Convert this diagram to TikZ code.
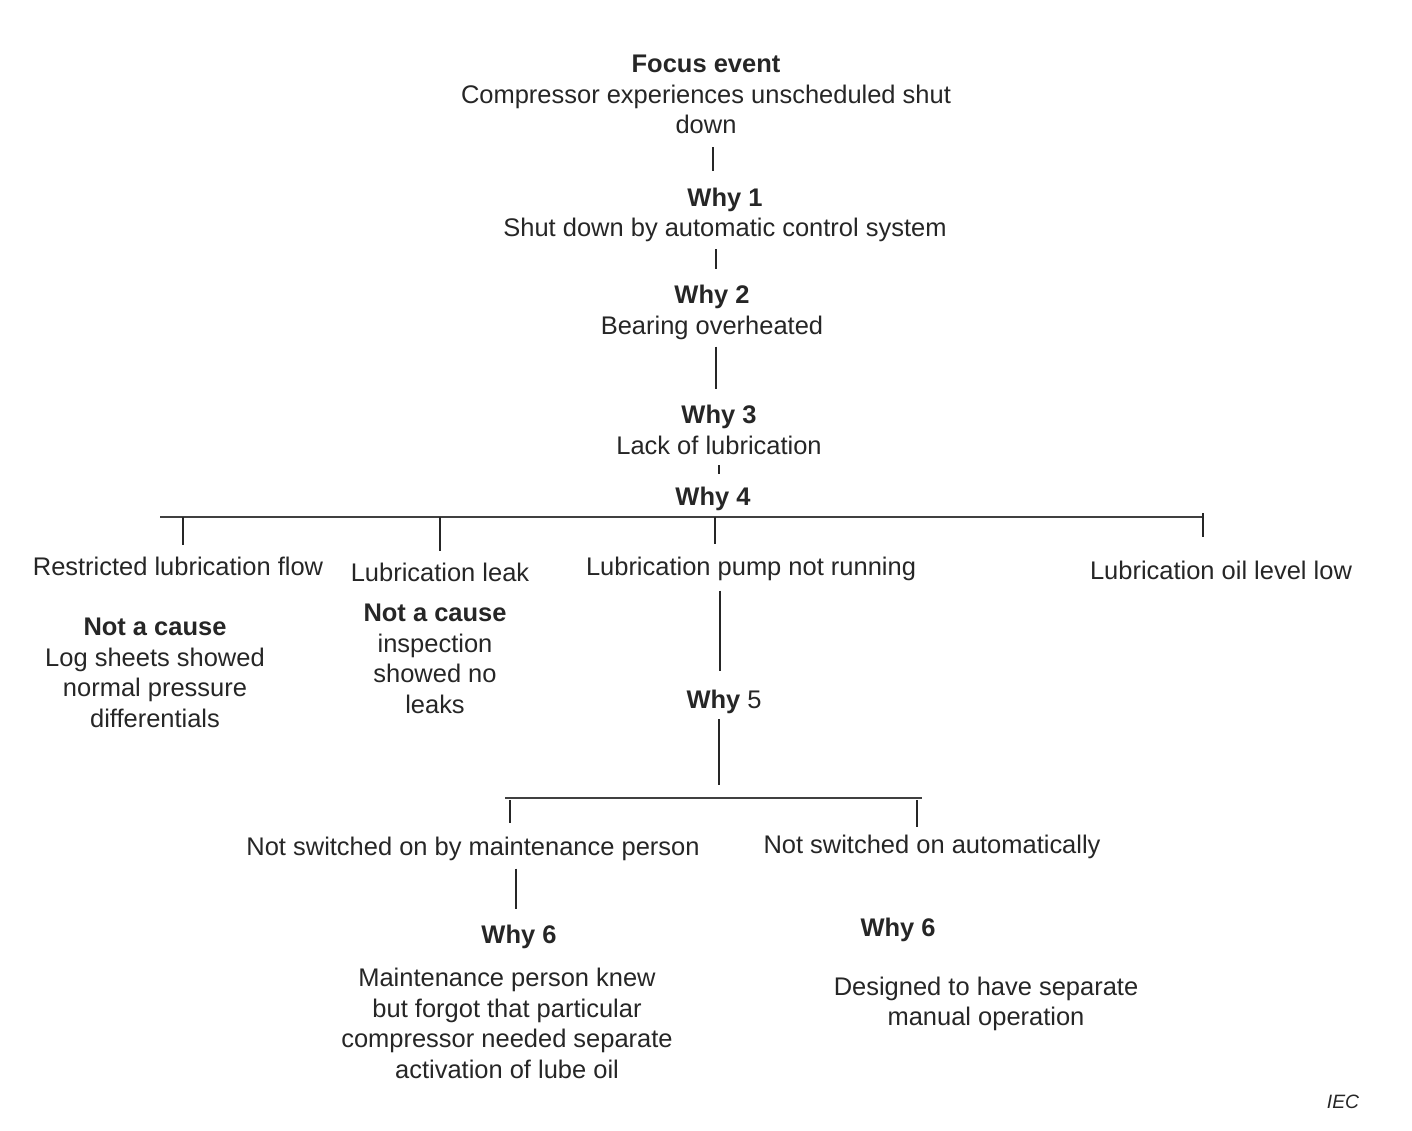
\documentclass[tikz,border=0pt]{standalone}
\usepackage{fontspec}
\setmainfont{Liberation Sans}
\usetikzlibrary{positioning}
\tikzset{
    mynode/.style={align=center, inner sep=0pt, text=black!85, font=\fontsize{14.5}{17.4}\selectfont},
    myline/.style={draw=black!85, line width=0.9pt},
    mybar/.style={draw=black!75, line width=1.2pt},
    mylabel/.style={inner sep=0pt, text=black!85, font=\fontsize{11}{13}\selectfont\itshape}
}

\begin{document}
\begin{tikzpicture}[x=0.02cm,y=-0.02cm]
    \useasboundingbox (0,0) rectangle (1412,1130);
    \node[mynode] (focus) at (706,94.5) {\textbf{Focus event}\\Compressor experiences unscheduled shut\\down};
    \node[mynode] (why1) at (725,215) {\textbf{Why 1}\\Shut down by automatic control system};
    \node[mynode] (why2) at (712,312.5) {\textbf{Why 2}\\Bearing overheated};
    \node[mynode] (why3) at (719,430) {\textbf{Why 3}\\Lack of lubrication};
    \node[mynode] (why4) at (713,499) {\textbf{Why 4}};
    \node[mynode] (c41) at (178,566) {Restricted lubrication flow};
    \node[mynode] (c42) at (440,572) {Lubrication leak};
    \node[mynode] (c43) at (751,569) {Lubrication pump not running};
    \node[mynode] (c44) at (1221,570) {Lubrication oil level low};
    \node[mynode] (n41) at (155,673) {\textbf{Not a cause}\\Log sheets showed\\normal pressure\\differentials};
    \node[mynode] (n42) at (435,659) {\textbf{Not a cause}\\inspection\\showed no\\leaks};
    \node[mynode] (why5) at (724,702) {\textbf{Why} 5};
    \node[mynode] (c51) at (473,849) {Not switched on by maintenance person};
    \node[mynode] (c52) at (932,847) {Not switched on automatically};
    \node[mynode] (why6a) at (519,937) {\textbf{Why 6}};
    \node[mynode] (why6b) at (898,930) {\textbf{Why 6}};
    \node[mynode] (r6a) at (507,1023.5) {Maintenance person knew\\but forgot that particular\\compressor needed separate\\activation of lube oil};
    \node[mynode] (r6b) at (986,1004) {Designed to have separate\\manual operation};
    \node[mylabel] (iec) at (1343,1102) {IEC};

    % bars of the two branchings
    \coordinate (bar4w) at (160,517);
    \coordinate (bar4e) at (1203,517);
    \coordinate (bar5w) at (505,798);
    \coordinate (bar5e) at (922,798);
    \coordinate (t41) at (183,517);
    \coordinate (t42) at (440,517);
    \coordinate (t43) at (715,517);
    \coordinate (t44) at (1203,513);
    \coordinate (t51) at (510,800);
    \coordinate (t52) at (917,800);
    \draw[mybar] (bar4w) -- (bar4e);
    \draw[mybar] (bar5w) -- (bar5e);

    \path ([xshift=0.14cm]focus.south) edge [myline, shorten <=0.26cm, shorten >=0.34cm] ([xshift=0.14cm]focus.south |- why1.north)
          ([xshift=-0.18cm]why1.south) edge [myline, shorten <=0.13cm, shorten >=0.32cm] ([xshift=-0.18cm]why1.south |- why2.north)
          ([xshift=0.08cm]why2.south) edge [myline, shorten <=0.13cm, shorten >=0.32cm] ([xshift=0.08cm]why2.south |- why3.north)
          (why3.south) edge [myline, shorten <=0.2cm, shorten >=0.26cm] (why3.south |- why4.north)
          (t41) edge [myline, shorten >=0.22cm] (t41 |- c41.north)
          (t42) edge [myline, shorten >=0.22cm] (t42 |- c42.north)
          (t43) edge [myline, shorten >=0.26cm] (t43 |- c43.north)
          (t44) edge [myline, shorten >=0.46cm] (t44 |- c44.north)
          ([xshift=-0.08cm]why5.north |- c43.south) edge [myline, shorten <=0.19cm, shorten >=0.38cm] ([xshift=-0.08cm]why5.north)
          ([xshift=-0.1cm]why5.south) edge [myline, shorten <=0.1cm, shorten >=0.26cm] ([xshift=-0.1cm]why5.south |- bar5w)
          (t51) edge [myline, shorten >=0.28cm] (t51 |- c51.north)
          (t52) edge [myline, shorten >=0.16cm] (t52 |- c52.north)
          ([xshift=-0.06cm]why6a.north |- c51.south) edge [myline, shorten <=0.15cm, shorten >=0.32cm] ([xshift=-0.06cm]why6a.north);
\end{tikzpicture}
\end{document}
